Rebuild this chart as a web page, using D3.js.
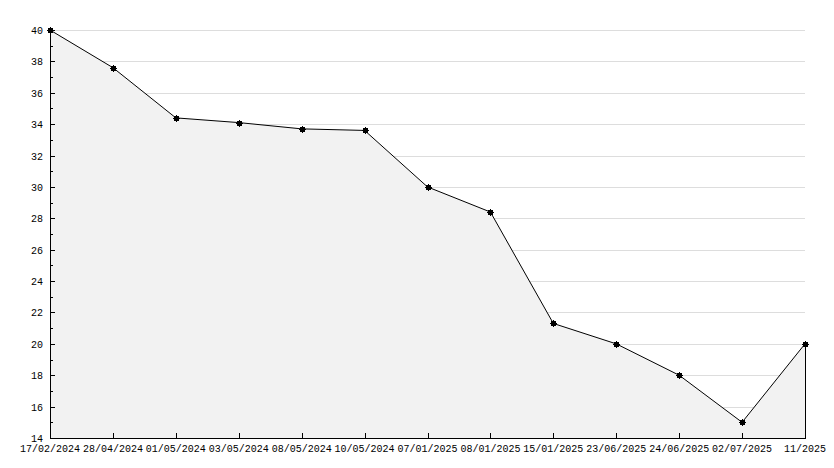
<!DOCTYPE html>
<html>
<head>
<meta charset="utf-8">
<script src="https://cdn.jsdelivr.net/npm/d3@7"></script>
<style>
  html, body { margin: 0; padding: 0; background: #ffffff; }
  svg { display: block; }
  text { font-family: "Liberation Mono", "DejaVu Sans Mono", monospace; font-size: 10px; fill: #000; }
</style>
</head>
<body>
<div id="chart"></div>
<script>
const categories = ["17/02/2024","28/04/2024","01/05/2024","03/05/2024","08/05/2024","10/05/2024","07/01/2025","08/01/2025","15/01/2025","23/06/2025","24/06/2025","02/07/2025","11/2025"];
const values = [40, 37.6, 34.4, 34.1, 33.7, 33.6, 30, 28.4, 21.3, 20, 18, 15, 20];
const yMajorTicks = [14,16,18,20,22,24,26,28,30,32,34,36,38,40];
const yMinorTicks = [15,17,19,21,23,25,27,29,31,33,35,37,39];

const W = 834, H = 468;
const mLeft = 50, mRight = 805, mTop = 30, mBottom = 438;

const svg = d3.select("#chart").append("svg").attr("width", W).attr("height", H);

const x = d3.scalePoint().domain(categories).range([mLeft, mRight]);
const y = d3.scaleLinear().domain([14, 40]).range([mBottom, mTop]);

// gridlines
svg.append("g").selectAll("line").data(yMajorTicks.filter(v => v > 14)).join("line")
  .attr("x1", mLeft).attr("x2", mRight)
  .attr("y1", d => Math.round(y(d)) + 0.5).attr("y2", d => Math.round(y(d)) + 0.5)
  .attr("stroke", "#dddddd").attr("stroke-width", 1).attr("shape-rendering", "crispEdges");

const pts = categories.map((c, i) => [x(c), y(values[i])]);

// area
const area = d3.area().x(d => d[0]).y0(y(14)).y1(d => d[1]);
svg.append("path").datum(pts).attr("d", area).attr("fill", "#f2f2f2");

// right edge of the area
const last = pts[pts.length - 1];
svg.append("line")
  .attr("x1", Math.round(last[0]) + 0.5).attr("x2", Math.round(last[0]) + 0.5)
  .attr("y1", last[1]).attr("y2", mBottom)
  .attr("stroke", "#000").attr("shape-rendering", "crispEdges");

// line
svg.append("path").datum(pts).attr("d", d3.line())
  .attr("fill", "none").attr("stroke", "#000").attr("stroke-width", 1);

// axes
const axG = svg.append("g").attr("shape-rendering", "crispEdges");
axG.append("line").attr("x1", mLeft + 0.5).attr("x2", mLeft + 0.5).attr("y1", mTop).attr("y2", mBottom + 0.5).attr("stroke", "#000");
axG.append("line").attr("x1", mLeft).attr("x2", mRight + 1).attr("y1", mBottom + 0.5).attr("y2", mBottom + 0.5).attr("stroke", "#000");

// y ticks
axG.selectAll(".ymaj").data(yMajorTicks).join("line")
  .attr("x1", mLeft).attr("x2", mLeft + 5)
  .attr("y1", d => Math.round(y(d)) + 0.5).attr("y2", d => Math.round(y(d)) + 0.5)
  .attr("stroke", "#000");
axG.selectAll(".ymin").data(yMinorTicks).join("line")
  .attr("x1", mLeft).attr("x2", mLeft + 3)
  .attr("y1", d => Math.round(y(d)) + 0.5).attr("y2", d => Math.round(y(d)) + 0.5)
  .attr("stroke", "#000");

// x ticks
axG.selectAll(".xt").data(categories).join("line")
  .attr("x1", d => Math.round(x(d)) + 0.5).attr("x2", d => Math.round(x(d)) + 0.5)
  .attr("y1", mBottom - 5).attr("y2", mBottom)
  .attr("stroke", "#000");

// y labels
svg.append("g").selectAll("text").data(yMajorTicks).join("text")
  .attr("x", mLeft - 7).attr("y", d => y(d) + 4)
  .attr("text-anchor", "end").text(d => d);

// x labels
svg.append("g").selectAll("text").data(categories).join("text")
  .attr("x", d => x(d)).attr("y", mBottom + 14)
  .attr("text-anchor", "middle").text(d => d);

// markers
const mk = svg.append("g").selectAll("g").data(pts).join("g")
  .attr("transform", d => `translate(${Math.round(d[0])},${Math.round(d[1])})`);
mk.append("rect").attr("x", -2).attr("y", -2).attr("width", 5).attr("height", 5).attr("fill", "#000");
mk.append("path").attr("d", "M-3,0.5H4M0.5,-3V4M-2,-2L3,3M3,-2L-2,3").attr("stroke", "#000").attr("stroke-width", 1);
</script>
</body>
</html>
